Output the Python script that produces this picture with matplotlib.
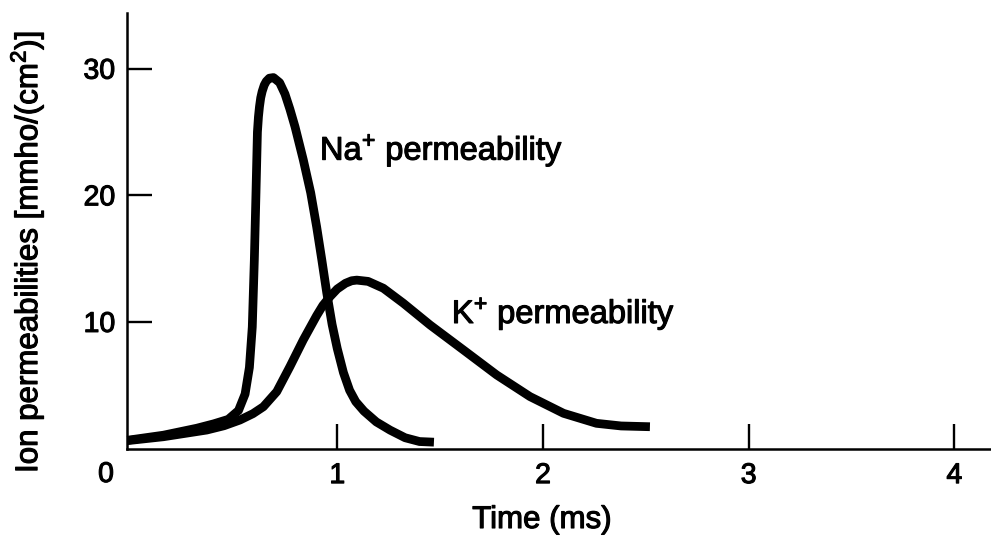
import matplotlib
matplotlib.use("Agg")
import matplotlib.pyplot as plt
import matplotlib.patheffects as pe

plt.rcParams['font.family'] = ['Liberation Sans', 'DejaVu Sans']
plt.rcParams['mathtext.fontset'] = 'custom'
plt.rcParams['mathtext.rm'] = 'Liberation Sans'
plt.rcParams['mathtext.it'] = 'Liberation Sans:italic'
plt.rcParams['mathtext.bf'] = 'Liberation Sans:bold'

# Na+ permeability (time in ms, permeability in mmho/cm^2)
na_time = [-0.02, 0.155, 0.317, 0.40, 0.47, 0.52, 0.552, 0.573, 0.587, 0.597,
           0.605, 0.612, 0.617, 0.622, 0.628, 0.635, 0.645, 0.655, 0.67, 0.69,
           0.72, 0.746, 0.77, 0.795, 0.835, 0.871, 0.90, 0.925, 0.949, 0.975,
           1.0, 1.03, 1.06, 1.09, 1.13, 1.19, 1.257, 1.33, 1.40, 1.47]
na_perm = [0.65, 1.05, 1.6, 1.95, 2.3, 3.0, 4.3, 6.4, 9.6, 14.9,
           20.2, 25.0, 26.2, 27.0, 27.7, 28.2, 28.7, 29.0, 29.25, 29.3,
           28.9, 28.0, 26.8, 25.4, 22.8, 20.2, 17.5, 14.9, 12.3, 9.8,
           7.9, 6.0, 4.6, 3.7, 2.95, 2.1, 1.45, 0.85, 0.55, 0.5]

# K+ permeability
k_time = [-0.02, 0.155, 0.366, 0.45, 0.527, 0.59, 0.641, 0.706, 0.77, 0.835,
          0.90, 0.93, 0.965, 1.0, 1.04, 1.07, 1.095, 1.15, 1.224, 1.321,
          1.451, 1.613, 1.775, 1.937, 2.1, 2.26, 2.38, 2.52]
k_perm = [0.62, 0.93, 1.46, 1.8, 2.25, 2.75, 3.3, 4.49, 6.47, 8.58,
          10.5, 11.3, 12.0, 12.6, 13.05, 13.25, 13.3, 13.2, 12.66, 11.48,
          9.76, 7.79, 5.81, 4.1, 2.78, 1.99, 1.78, 1.72]

x_ticks = [1, 2, 3, 4]
x_ticklabels = ['1', '2', '3', '4']
y_ticks = [10, 20, 30]
y_ticklabels = ['10', '20', '30']

W, H = 991, 536
fig = plt.figure(figsize=(W / 100, H / 100), dpi=100)
ax_left, ax_right, ax_top, ax_bottom = 127, 991, 13, 448.5
ax = fig.add_axes([ax_left / W, 1 - ax_bottom / H,
                   (ax_right - ax_left) / W, (ax_bottom - ax_top) / H])

for t, p in [(na_time, na_perm), (k_time, k_perm)]:
    ax.plot(t, p, color='black', lw=6.3, solid_capstyle='butt',
            solid_joinstyle='round', clip_on=False)

ax.set_xlim(-0.022, 4.178)
ax.set_ylim(0, 34.4)

for s in ['top', 'right']:
    ax.spines[s].set_visible(False)
for s in ['left', 'bottom']:
    ax.spines[s].set_linewidth(1.8)

bold = [pe.withStroke(linewidth=0.8, foreground='black')]

ax.set_xticks(x_ticks)
ax.set_xticklabels(x_ticklabels)
ax.set_yticks(y_ticks)
ax.set_yticklabels(y_ticklabels)
ax.tick_params(axis='both', direction='in', length=18, width=1.7,
               labelsize=20.5, colors='black')
ax.tick_params(axis='x', pad=10.5)
ax.tick_params(axis='y', pad=8.5)
for lab in ax.get_xticklabels() + ax.get_yticklabels():
    lab.set_path_effects(bold)

ax.text(0.916, 22.8, 'Na$^{+}$ permeability', fontsize=23.5,
        ha='left', va='baseline', path_effects=bold)
ax.text(1.557, 9.9, 'K$^{+}$ permeability', fontsize=23.5,
        ha='left', va='baseline', path_effects=bold)

fig.text(106 / W, 1 - 475 / H, '0', fontsize=20.5, ha='center', va='center',
         path_effects=bold)
fig.text(542 / W, 1 - 520 / H, 'Time (ms)', fontsize=22.5,
         ha='center', va='center', path_effects=bold)
fig.text(27 / W, 1 - 252 / H, 'Ion permeabilities [mmho/(cm$^{2}$)]',
         fontsize=22.5, ha='center', va='center', rotation=90,
         path_effects=bold)

fig.savefig('out.png', dpi=100, facecolor='white')
